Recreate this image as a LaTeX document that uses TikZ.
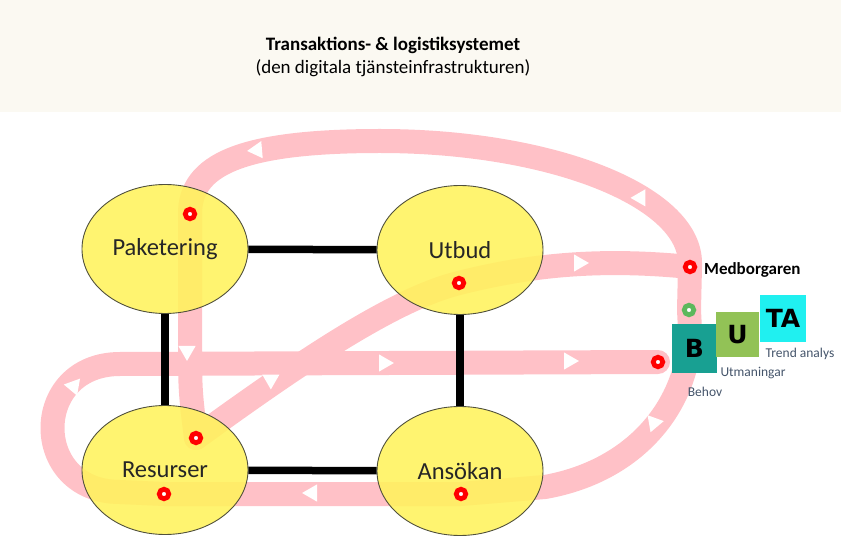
\documentclass[tikz,border=0pt]{standalone}
\usepackage{fontspec}
\setmainfont{Carlito}
\newfontfamily\butafont{DejaVu Sans}
\usetikzlibrary{shapes.geometric}

\definecolor{flowpink}{RGB}{255,193,199}
\definecolor{stageyellow}{RGB}{255,242,92}
\definecolor{rimgray}{RGB}{80,80,60}
\definecolor{headcream}{RGB}{251,249,242}
\definecolor{butateal}{RGB}{24,160,146}
\definecolor{butagreen}{RGB}{146,194,86}
\definecolor{butacyan}{RGB}{32,240,240}
\definecolor{butatext}{RGB}{68,84,106}
\definecolor{dotgreen}{RGB}{92,184,92}

\tikzset{
	flow/.style={draw=flowpink, line width=24pt, line cap=round, line join=round},
	stage/.style={shape=ellipse, draw=rimgray, line width=0.9pt, fill=stageyellow, fill opacity=0.88, text opacity=1, text=black!85, minimum width=166pt, minimum height=129pt, inner sep=0pt, font=\fontsize{24.5}{28}\selectfont},
	wire/.style={line width=7.5pt, draw=black},
	reddot/.style={shape=circle, draw=red, fill=white, line width=4.8pt, minimum size=9.5pt, inner sep=0pt},
	greendot/.style={reddot, draw=dotgreen},
	flowarrow/.style={shape=isosceles triangle, isosceles triangle apex angle=60, fill=white, inner sep=4pt},
	butabox/.style={shape=rectangle, inner sep=0pt, font=\butafont\bfseries\fontsize{25}{25}\selectfont},
	butalabel/.style={text=butatext, inner sep=0pt, font=\fontsize{13.5}{15}\selectfont},
}

\begin{document}
\begin{tikzpicture}[x=1pt, y=-1pt]
	\useasboundingbox (0,0) rectangle (841,537);
	\fill[headcream] (0,0) rectangle (841,112);
	% Points where the flows meet:
	\coordinate (dotP) at (190,214);
	\coordinate (dotU) at (459,283);
	\coordinate (dotR1) at (196,438);
	\coordinate (dotR2) at (164,494);
	\coordinate (dotA) at (461,494);
	\coordinate (dotM) at (690,267);
	\coordinate (dotG) at (689,310);
	\coordinate (dotB) at (658,362);
	% Flows:
	\draw[flow] (dotR1) .. controls (190,390) .. (190,330) -- (dotP) .. controls (190,165) and (240,141) .. (380,141) .. controls (551,141) and (690,196) .. (690,263) -- (dotM) -- (dotG) -- (690,330) .. controls (690,400) and (640,470) .. (545,487) -- (dotA) -- (dotR2) -- (120,492) .. controls (30,492) and (30,364) .. (120,364) -- (dotB);
	\draw[flow] (dotR1) .. controls (290,370) and (390,300) .. (dotU) .. controls (530,265) and (600,258) .. (dotM);
	\node[flowarrow, rotate=185] (a1) at (258,150){};
	\node[flowarrow, rotate=-60] (a2) at (640,197){};
	\node[flowarrow, rotate=-90] (a3) at (187,350){};
	\node[flowarrow, rotate=50] (a4) at (73,387){};
	\node[flowarrow, rotate=30] (a5) at (270,380){};
	\node[flowarrow] (a6) at (383,363){};
	\node[flowarrow] (a7) at (568,361){};
	\node[flowarrow] (a8) at (578,263){};
	\node[flowarrow, rotate=10] (a9) at (653,423){};
	\node[flowarrow, rotate=180] (a10) at (313,493){};
	% Stages and wires:
	\node[stage] (P) at (165,249){Paketering};
	\node[stage] (U) at (460,250){Utbud};
	\node[stage] (R) at (165,470){Resurser};
	\node[stage] (A) at (460,471){Ansökan};
	\draw[wire] (P) -- (U);
	\draw[wire] (P) -- (R);
	\draw[wire] (U) -- (A);
	\draw[wire] (R) -- (A);
	\node[reddot] (rP) at (dotP){};
	\node[reddot] (rU) at (dotU){};
	\node[reddot] (rR1) at (dotR1){};
	\node[reddot] (rR2) at (dotR2){};
	\node[reddot] (rA) at (dotA){};
	\node[reddot] (rM) at (dotM){};
	\node[greendot] (rG) at (dotG){};
	\node[reddot] (rB) at (dotB){};
	% BUTA:
	\node[butabox, fill=butateal, minimum width=45pt, minimum height=49pt] (boxB) at (694.5,348.5){B};
	\node[butabox, fill=butagreen, minimum width=43pt, minimum height=45pt] (boxU) at (737.5,334.5){U};
	\node[butabox, fill=butacyan, minimum width=46pt, minimum height=47pt] (boxTA) at (783,318.5){TA};
	\node[anchor=west, inner sep=0pt, font=\bfseries\fontsize{17}{20}\selectfont] (medb) at (704,270){Medborgaren};
	\node[butalabel] (lblTA) at (800,354){Trend analys};
	\node[butalabel] (lblU) at (753,373){Utmaningar};
	\node[butalabel] (lblB) at (705,392){Behov};
	% Title:
	\node[font=\bfseries\fontsize{19}{22}\selectfont] (title) at (393,45){Transaktions- \& logistiksystemet};
	\node[font=\fontsize{19}{22}\selectfont] (subtitle) at (393,68){(den digitala tjänsteinfrastrukturen)};
\end{tikzpicture}
\end{document}
